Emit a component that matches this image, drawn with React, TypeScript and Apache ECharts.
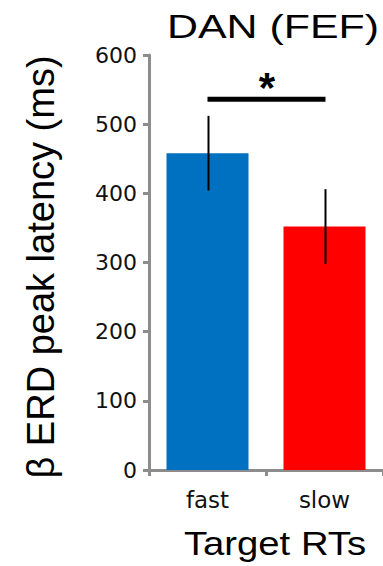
import React, { useEffect, useRef } from "react";
import * as echarts from "echarts";

// Peak latency of beta-band ERD in the FEF node of the dorsal attention network
const categories = ["fast", "slow"];
const meanLatency = [458, 352];
const errLatency = [54, 54];
const sigLevel = 536;
const yMin = 0;
const yMax = 600;
const yStep = 100;

const titleText = "DAN (FEF)";
const xTitle = "Target RTs";
const yTitle = "β ERD peak latency (ms)";

const barColors = ["#0070C0", "#FF0000"];
const axisGray = "#8c8c8c";

export default function App() {
  const ref = useRef<HTMLDivElement>(null);

  useEffect(() => {
    if (!ref.current) return;
    const chart = echarts.init(ref.current, null, { renderer: "svg" });

    const errData = categories.map((_, i) => [
      i,
      meanLatency[i] - errLatency[i],
      meanLatency[i] + errLatency[i],
    ]);

    chart.setOption({
      animation: false,
      backgroundColor: "#ffffff",
      grid: { left: 149, top: 55, width: 242, bottom: 96 },
      graphic: [
        {
          type: "text",
          x: 273,
          y: 26,
          scaleX: 1.3,
          style: {
            text: titleText,
            fontSize: 33,
            fontFamily: "Liberation Sans",
            fill: "#000",
            align: "center",
            verticalAlign: "middle",
          },
        },
        {
          type: "text",
          x: 275,
          y: 544,
          scaleX: 1.16,
          style: {
            text: xTitle,
            fontSize: 33,
            fontFamily: "Liberation Sans",
            fill: "#000",
            align: "center",
            verticalAlign: "middle",
          },
        },
        {
          type: "text",
          x: 41,
          y: 267,
          rotation: Math.PI / 2,
          style: {
            text: yTitle,
            fontSize: 38,
            fontFamily: "Liberation Sans",
            fill: "#000",
            align: "center",
            verticalAlign: "middle",
          },
        },
      ],
      xAxis: {
        type: "category",
        data: categories,
        axisLine: { lineStyle: { color: axisGray, width: 3 } },
        axisTick: { show: true, length: 6, lineStyle: { color: axisGray, width: 3 } },
        axisLabel: {
          fontSize: 23,
          fontFamily: "DejaVu Sans",
          color: "#111",
          margin: 18,
        },
        splitLine: { show: false },
      },
      yAxis: {
        type: "value",
        min: yMin,
        max: yMax,
        interval: yStep,
        axisLine: { show: true, lineStyle: { color: axisGray, width: 3 } },
        axisTick: { show: true, length: 6, lineStyle: { color: axisGray, width: 3 } },
        axisLabel: {
          fontSize: 22,
          fontFamily: "DejaVu Sans",
          color: "#111",
          margin: 12,
        },
        splitLine: { show: false },
      },
      series: [
        {
          type: "bar",
          barWidth: 82,
          data: meanLatency.map((v, i) => ({ value: v, itemStyle: { color: barColors[i] } })),
        },
        {
          type: "custom",
          data: errData,
          encode: { x: 0, y: [1, 2] },
          z: 5,
          renderItem: (params: any, api: any) => {
            const lo = api.coord([api.value(0), api.value(1)]);
            const hi = api.coord([api.value(0), api.value(2)]);
            return {
              type: "line",
              shape: { x1: lo[0] + 1, y1: lo[1], x2: hi[0] + 1, y2: hi[1] },
              style: { stroke: "#000", lineWidth: 2 },
            };
          },
        },
        {
          type: "custom",
          data: [[0, 1, sigLevel]],
          encode: { x: 0, y: 2 },
          z: 5,
          clip: false,
          renderItem: (params: any, api: any) => {
            const a = api.coord([api.value(0), api.value(2)]);
            const b = api.coord([api.value(1), api.value(2)]);
            return {
              type: "group",
              children: [
                {
                  type: "line",
                  shape: { x1: a[0], y1: a[1], x2: b[0] + 1, y2: b[1] },
                  style: { stroke: "#000", lineWidth: 5 },
                },
                {
                  type: "text",
                  x: (a[0] + b[0]) / 2 + 1,
                  y: a[1] - 12,
                  style: {
                    text: "*",
                    fontSize: 42,
                    fontWeight: "bold",
                    fontFamily: "Liberation Sans",
                    fill: "#000",
                    align: "center",
                    verticalAlign: "middle",
                  },
                },
              ],
            };
          },
        },
      ],
    });

    return () => chart.dispose();
  }, []);

  return (
    <div
      ref={ref}
      style={{ position: "absolute", left: 0, top: 0, width: 383, height: 566 }}
    />
  );
}
